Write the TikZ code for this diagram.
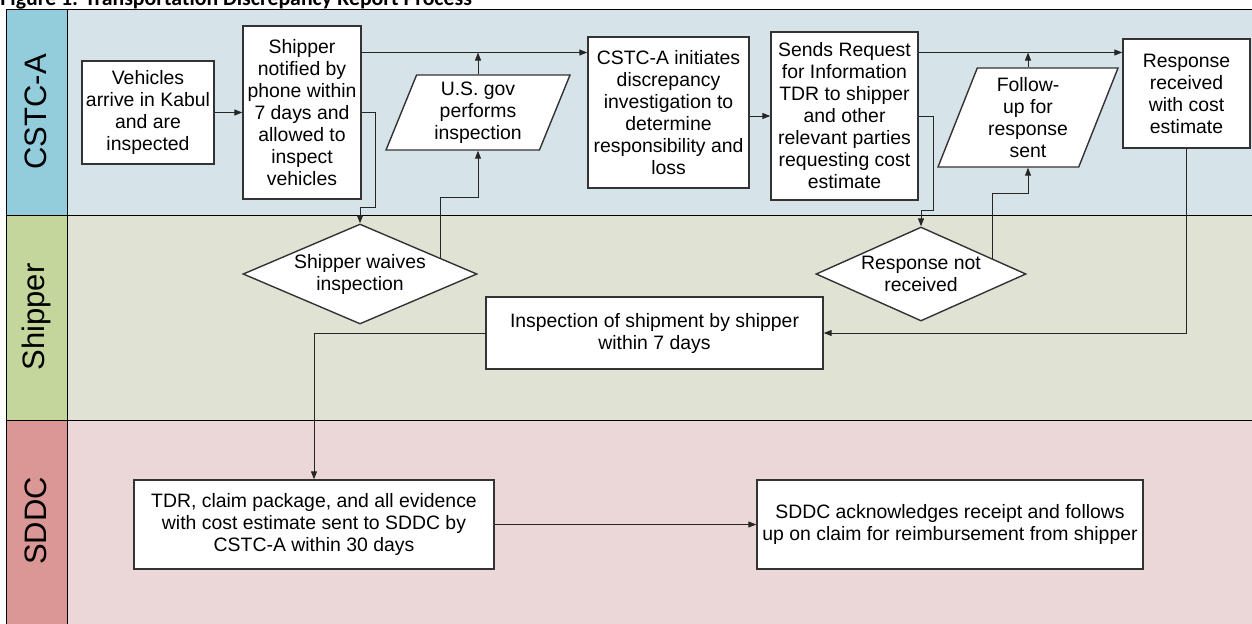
\documentclass[tikz,border=0pt]{standalone}
\usepackage{fontspec}
\setmainfont{Liberation Sans}
\newfontfamily\titlefont{Carlito}
\usetikzlibrary{shapes.geometric, arrows.meta, calc}

\definecolor{cstcbody}{RGB}{214,227,233}
\definecolor{cstchead}{RGB}{147,205,220}
\definecolor{shipbody}{RGB}{224,227,212}
\definecolor{shiphead}{RGB}{196,214,156}
\definecolor{sddcbody}{RGB}{235,215,215}
\definecolor{sddchead}{RGB}{218,151,149}

\begin{document}
\begin{tikzpicture}[x=0.5pt, y=-0.5pt,
  lane/.style={draw=black, line width=0.5pt},
  lanename/.style={rotate=90, font=\fontsize{15.5}{18}\selectfont},
  box/.style={draw=black!80, line width=0.7pt, fill=white, align=center,
              inner sep=1pt, font=\fontsize{9.7}{11}\selectfont},
  io/.style={box, trapezium, trapezium left angle=65, trapezium right angle=115,
             trapezium stretches body},
  dec/.style={box, diamond, inner sep=0pt},
  arr/.style={-{Triangle[length=4pt,width=3pt]}, line width=0.5pt, draw=black!85}]
  \useasboundingbox (0,0) rectangle (1252,623);
  \clip (0,0) rectangle (1252,623);
  \node[anchor=base west, inner sep=0pt,
        font=\titlefont\fontsize{10.9}{13}\selectfont\bfseries] (title) at (0,5)
    {Figure 1: Transportation Discrepancy Report Process};

  % swim lanes
  \draw[lane, fill=cstcbody] (67,9) rectangle (1260,215);
  \draw[lane, fill=cstchead] (6,9) rectangle (67,215);
  \draw[lane, fill=shipbody] (67,215) rectangle (1260,420);
  \draw[lane, fill=shiphead] (6,215) rectangle (67,420);
  \draw[lane, fill=sddcbody] (67,420) rectangle (1260,630);
  \draw[lane, fill=sddchead] (6,420) rectangle (67,630);
  \node[lanename] (lcstc) at (36,112) {CSTC-A};
  \node[lanename] (lship) at (36,317) {Shipper};
  \node[lanename] (lsddc) at (36,521) {SDDC};

  \coordinate (topline) at (0,52.5);

  % CSTC-A
  \node[box, minimum width=66pt, minimum height=51.5pt] (vehicles) at (148,112.5)
    {Vehicles\\arrive in Kabul\\and are\\inspected};
  \node[box, minimum width=59pt, minimum height=86.5pt] (notified) at (302,112.5)
    {Shipper\\notified by\\phone within\\7 days and\\allowed to\\inspect\\vehicles};
  \node[io, minimum width=92pt, minimum height=37.5pt] (usgov) at (478,112.5)
    {U.S. gov\\performs\\inspection};
  \node[box, minimum width=80.5pt, minimum height=75.5pt] (investig) at (668.5,112.5)
    {CSTC-A initiates\\discrepancy\\investigation to\\determine\\responsibility and\\loss};
  \node[box, minimum width=73.5pt, minimum height=84pt] (request) at (844.5,116)
    {Sends Request\\for Information\\TDR to shipper\\and other\\relevant parties\\requesting cost\\estimate};
  \node[io, minimum width=90pt, minimum height=49.5pt] (followup) at (1028,117.5)
    {Follow-\\up for\\response\\sent};
  \node[box, minimum width=63.5pt, minimum height=54.5pt] (received) at (1186.5,93.5)
    {Response\\received\\with cost\\estimate};

  % Shipper
  \node[dec, minimum width=117pt, minimum height=50pt, shape aspect=2.34] (waives) at (360,274)
    {Shipper waives\\inspection};
  \node[dec, minimum width=105pt, minimum height=47pt, shape aspect=2.23] (notrecv) at (921,274)
    {Response not\\received};
  \node[box, minimum width=168.5pt, minimum height=36pt] (shipinsp) at (654.5,333)
    {Inspection of shipment by shipper\\within 7 days};

  % SDDC
  \node[box, minimum width=180pt, minimum height=44.5pt] (claim) at (314,524.5)
    {TDR, claim package, and all evidence\\with cost estimate sent to SDDC by\\CSTC-A within 30 days};
  \node[box, minimum width=193pt, minimum height=44.5pt] (reimb) at (950,524.5)
    {SDDC acknowledges receipt and follows\\up on claim for reimbursement from shipper};

  % connectors
  \draw[arr] (vehicles) -- (notified);
  \draw[arr] (notified.east |- topline) -- (investig.west |- topline);
  \draw[arr] (usgov.north) -- (usgov.north |- topline);
  \draw[arr] (notified.east) -- ++(14,0) |- ($(waives.north)+(0,-16)$) -- (waives.north);
  \draw[arr] ($(waives.north)!0.68!(waives.east)$) |- ($(usgov.south)+(0,47)$) -- (usgov.south);
  \draw[arr] (investig.east |- request.west) -- (request.west);
  \draw[arr] (request.east |- topline) -- (received.west |- topline);
  \draw[arr] (followup.north) -- (followup.north |- topline);
  \draw[arr] (request.east) -- ++(15,0) |- ($(notrecv.north)+(0,-16)$) -- (notrecv.north);
  \draw[arr] ($(notrecv.north)!0.68!(notrecv.east)$) |- ($(followup.south)+(0,26)$) -- (followup.south);
  \draw[arr] (received.south) |- (shipinsp.east);
  \draw[arr] (shipinsp.west) -| (claim.north);
  \draw[arr] (claim) -- (reimb);
\end{tikzpicture}
\end{document}
